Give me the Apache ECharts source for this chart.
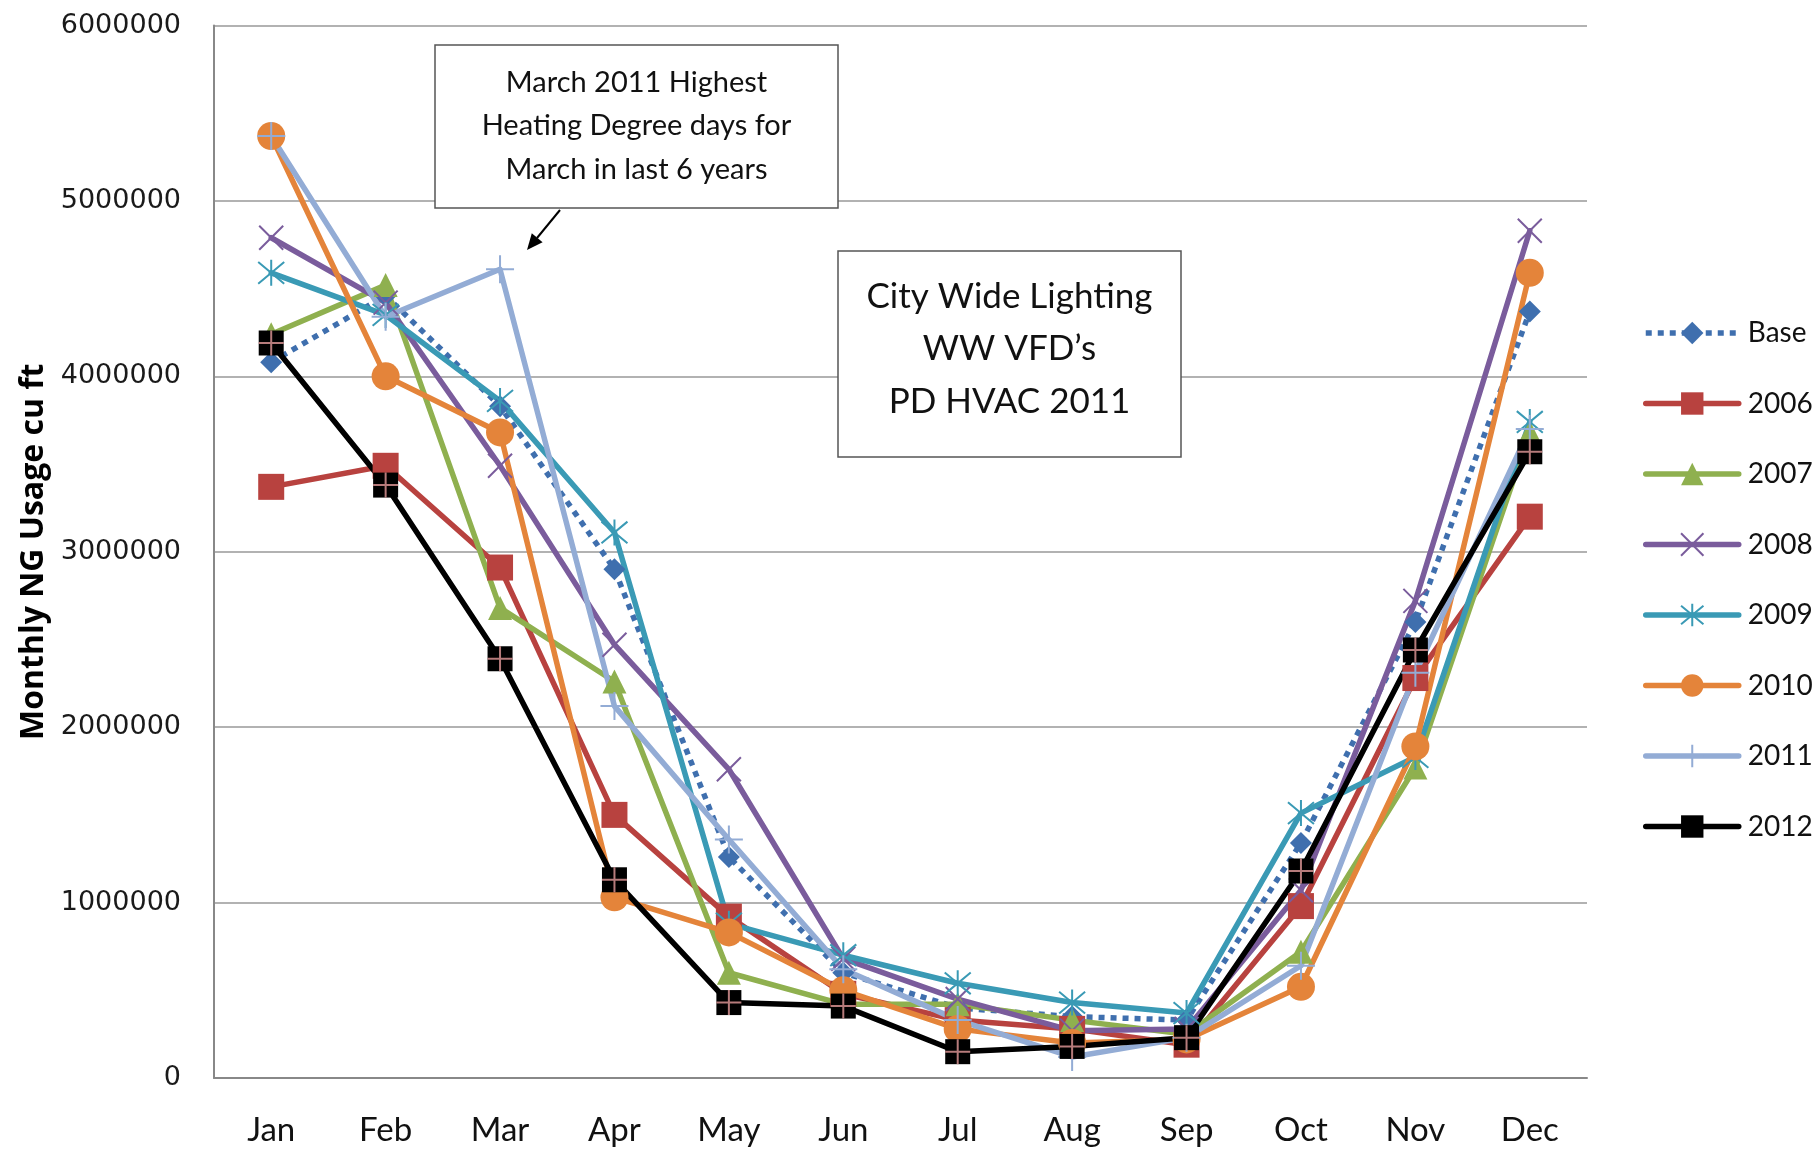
<!DOCTYPE html>
<html>
<head>
<meta charset="utf-8">
<title>Monthly NG Usage</title>
<script src="https://cdn.jsdelivr.net/npm/echarts@6/dist/echarts.min.js"></script>
<style>
  html, body { margin: 0; padding: 0; background: #fff; }
  #chart { width: 1816px; height: 1149px; }
</style>
</head>
<body>
<div id="chart"></div>
<script>
// 数据 (cu ft)
var months = ['Jan', 'Feb', 'Mar', 'Apr', 'May', 'Jun', 'Jul', 'Aug', 'Sep', 'Oct', 'Nov', 'Dec'];
var yTicks = [0, 1000000, 2000000, 3000000, 4000000, 5000000, 6000000];
var base = [4080000, 4460000, 3830000, 2900000, 1260000, 600000, 400000, 350000, 330000, 1340000, 2600000, 4370000];
var y2006 = [3370000, 3490000, 2910000, 1500000, 920000, 480000, 330000, 280000, 190000, 980000, 2280000, 3200000];
var y2007 = [4240000, 4520000, 2680000, 2260000, 600000, 420000, 420000, 330000, 250000, 720000, 1770000, 3680000];
var y2008 = [4790000, 4420000, 3490000, 2470000, 1760000, 680000, 450000, 270000, 280000, 1070000, 2720000, 4830000];
var y2009 = [4590000, 4350000, 3860000, 3110000, 880000, 700000, 540000, 430000, 370000, 1510000, 1830000, 3740000];
var y2010 = [5370000, 4000000, 3680000, 1030000, 830000, 500000, 280000, 200000, 220000, 520000, 1890000, 4590000];
var y2011 = [5370000, 4340000, 4610000, 2120000, 1360000, 620000, 330000, 120000, 230000, 640000, 2310000, 3700000];
var y2012 = [4190000, 3380000, 2390000, 1130000, 430000, 410000, 150000, 180000, 230000, 1180000, 2440000, 3570000];

var FONT = 'Lato, "Open Sans", sans-serif';
var LW = 5.5;

function mkLine(name, data, color, symbol, size, extra) {
  var s = {
    name: name,
    type: 'line',
    data: data,
    symbol: symbol,
    symbolSize: size,
    showAllSymbol: true,
    lineStyle: { color: color, width: LW, cap: 'round', join: 'round' },
    itemStyle: { color: color, borderColor: color, borderWidth: 0 },
    emphasis: { disabled: true }
  };
  if (extra) {
    for (var k in extra) s[k] = extra[k];
  }
  return s;
}

var xPath = 'path://M0,0L20,20M20,0L0,20';
var starPath = 'path://M0,0L20,20M20,0L0,20M10,-2V22';
var plusPath = 'path://M10,0V20M0,10H20';

var series = [
  mkLine('Base', base, '#3f6fae', 'diamond', 22, {
    lineStyle: { color: '#3f6fae', width: LW, type: [6, 6], cap: 'butt' }
  }),
  mkLine('2006', y2006, '#b8423f', 'rect', 26),
  mkLine('2007', y2007, '#8fb04f', 'triangle', 24),
  mkLine('2008', y2008, '#7a5c9c', xPath, 24, {
    itemStyle: { color: 'none', borderColor: '#7a5c9c', borderWidth: 2 }
  }),
  mkLine('2009', y2009, '#3a9ab5', starPath, 26, {
    itemStyle: { color: 'none', borderColor: '#3a9ab5', borderWidth: 2 }
  }),
  mkLine('2010', y2010, '#e4843a', 'circle', 28),
  mkLine('2011', y2011, '#93acd5', plusPath, 28, {
    itemStyle: { color: 'none', borderColor: '#93acd5', borderWidth: 2 }
  }),
  mkLine('2012', y2012, '#000000', 'rect', 25),
  // 2012 标记上的粉色十字
  {
    name: '2012 cross',
    type: 'scatter',
    data: y2012,
    symbol: plusPath,
    symbolSize: 25,
    itemStyle: { color: 'none', borderColor: '#e39a9a', borderWidth: 2 },
    emphasis: { disabled: true },
    z: 5
  }
];

// 箭头 (标注指向 2011 年三月)
var arrowTip = [527, 250];

var option = {
  animation: false,
  backgroundColor: '#fff',
  grid: { left: 214, right: 229, top: 25.5, bottom: 71 },
  legend: {
    data: ['Base', '2006', '2007', '2008', '2009', '2010', '2011', '2012'],
    orient: 'vertical',
    left: 1638,
    top: 313,
    itemWidth: 93,
    itemHeight: 28,
    itemGap: 40.5,
    selectedMode: false,
    lineStyle: { width: 5.5 },
    textStyle: { fontFamily: FONT, fontSize: 28, color: '#111', lineHeight: 30, padding: [0, 0, 0, 4] }
  },
  xAxis: {
    type: 'category',
    data: months,
    boundaryGap: true,
    axisLine: { lineStyle: { color: '#888', width: 2 } },
    axisTick: { show: false },
    axisLabel: { fontFamily: FONT, fontSize: 33, color: '#111', margin: 36 }
  },
  yAxis: {
    type: 'value',
    min: yTicks[0],
    max: yTicks[yTicks.length - 1],
    interval: 1000000,
    name: 'Monthly NG Usage cu ft',
    nameLocation: 'middle',
    nameGap: 163,
    nameTextStyle: { fontFamily: '"Open Sans", sans-serif', fontWeight: 'bold', fontSize: 32, color: '#000' },
    axisLine: { show: true, lineStyle: { color: '#888', width: 2 } },
    axisTick: { show: false },
    splitLine: { lineStyle: { color: '#999', width: 1.5 } },
    axisLabel: {
      fontFamily: '"DejaVu Sans", sans-serif', fontSize: 27, color: '#1a1a1a', margin: 33,
      formatter: function (v) { return String(v); }
    }
  },
  graphic: [
    {
      type: 'rect',
      shape: { x: 435, y: 45, width: 403, height: 163 },
      style: { fill: '#fff', stroke: '#555', lineWidth: 1.5 },
      z: 100
    },
    {
      type: 'text',
      x: 636.5, y: 126,
      style: {
        text: 'March 2011 Highest\nHeating Degree days for\nMarch in last 6 years',
        fontFamily: FONT, fontSize: 29, lineHeight: 43.5,
        fill: '#111', align: 'center', verticalAlign: 'middle'
      },
      z: 101
    },
    {
      type: 'rect',
      shape: { x: 838, y: 251, width: 343, height: 206 },
      style: { fill: '#fff', stroke: '#555', lineWidth: 1.5 },
      z: 100
    },
    {
      type: 'text',
      x: 1009.5, y: 349,
      style: {
        text: 'City Wide Lighting\nWW VFD\u2019s\nPD HVAC 2011',
        fontFamily: FONT, fontSize: 35, lineHeight: 52.5,
        fill: '#111', align: 'center', verticalAlign: 'middle'
      },
      z: 101
    },
    {
      type: 'line',
      shape: { x1: 560, y1: 210, x2: 537, y2: 238 },
      style: { stroke: '#000', lineWidth: 2 },
      z: 100
    },
    {
      type: 'polygon',
      shape: { points: [arrowTip, [542.6, 242.2], [531.8, 233.2]] },
      style: { fill: '#000' },
      z: 100
    }
  ],
  series: series
};

var chart = echarts.init(document.getElementById('chart'));
chart.setOption(option);
</script>
</body>
</html>
